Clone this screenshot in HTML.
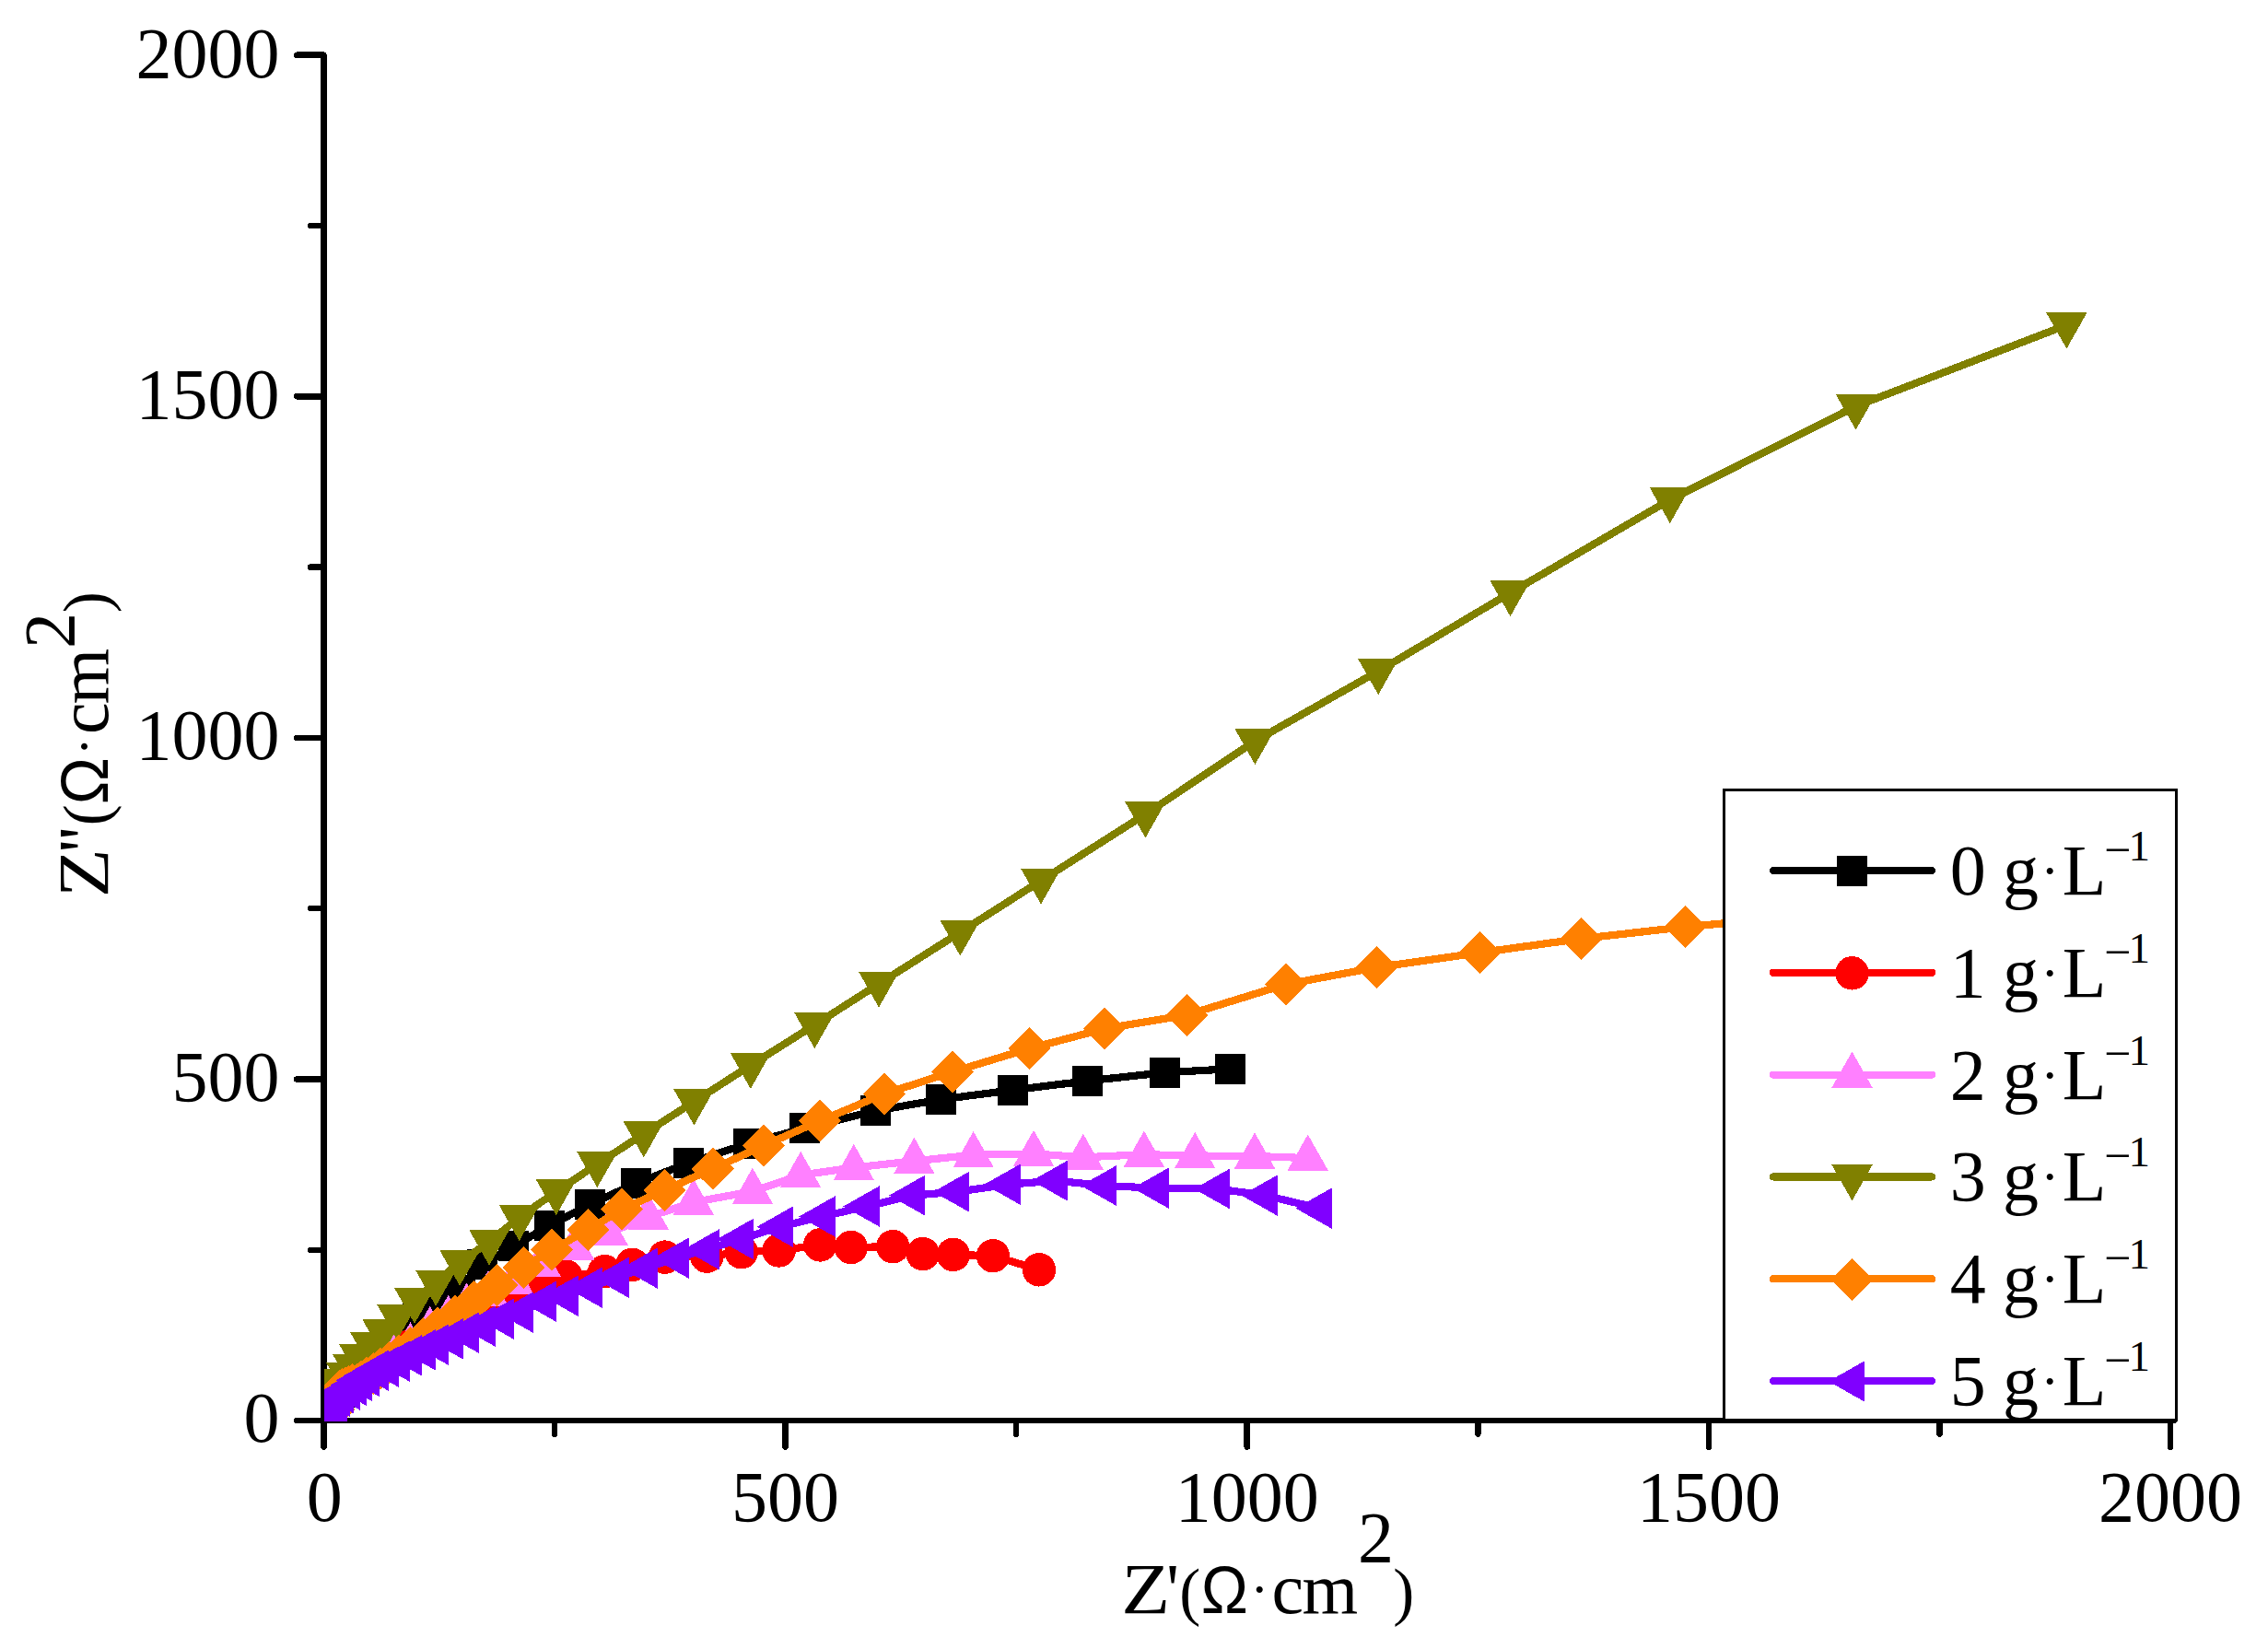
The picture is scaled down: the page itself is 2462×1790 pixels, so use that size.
<!DOCTYPE html>
<html lang="en"><head><meta charset="utf-8"><title>Nyquist plot</title>
<style>html,body{margin:0;padding:0;background:#fff}svg{display:block}text{font-family:"Liberation Serif","Times New Roman",serif;fill:#000}</style>
</head><body>
<svg width="2462" height="1790" viewBox="0 0 2462 1790">
<rect width="2462" height="1790" fill="#fff"/>
<defs><clipPath id="plot"><rect x="352" y="0" width="2110" height="1543"/></clipPath></defs>
<g stroke="#000" stroke-width="6.5" stroke-linecap="round" fill="none" shape-rendering="crispEdges">
<path d="M351.40 59.70V1570.65"/>
<path d="M322.15 1542.10H2359.55"/>
<path d="M337.05 1356.80H351.40"/>
<path d="M601.98 1542.10V1556.65"/>
<path d="M322.15 1171.50H351.40"/>
<path d="M852.56 1542.10V1570.65"/>
<path d="M337.05 986.20H351.40"/>
<path d="M1103.15 1542.10V1556.65"/>
<path d="M322.15 800.90H351.40"/>
<path d="M1353.73 1542.10V1570.65"/>
<path d="M337.05 615.60H351.40"/>
<path d="M1604.31 1542.10V1556.65"/>
<path d="M322.15 430.30H351.40"/>
<path d="M1854.89 1542.10V1570.65"/>
<path d="M337.05 245.00H351.40"/>
<path d="M2105.48 1542.10V1556.65"/>
<path d="M322.15 59.70H351.40"/>
<path d="M2356.06 1542.10V1570.65"/>
</g>
<g font-size="78">
<text x="303.5" y="1564.8" text-anchor="end">0</text>
<text x="303.5" y="1194.5" text-anchor="end">500</text>
<text x="303.5" y="824.3" text-anchor="end">1000</text>
<text x="303.5" y="454.0" text-anchor="end">1500</text>
<text x="303.5" y="83.8" text-anchor="end">2000</text>
<text x="352.2" y="1650.9" text-anchor="middle">0</text>
<text x="852.6" y="1650.9" text-anchor="middle">500</text>
<text x="1353.7" y="1650.9" text-anchor="middle">1000</text>
<text x="1854.9" y="1650.9" text-anchor="middle">1500</text>
<text x="2356.1" y="1650.9" text-anchor="middle">2000</text>
</g>
<g clip-path="url(#plot)" shape-rendering="crispEdges">
<path d="M1335.6 1160.3L1264.1 1164.3L1180.5 1173.3L1099.3 1183.3L1021.5 1193.4L950.1 1205.8L873.8 1224.6L812.0 1241.5L747.4 1262.4L690.4 1284.6L640.4 1307.3L596.4 1330.6L557.3 1352.8L523.6 1372.8L499.4 1400.0L474.7 1416.0L453.7 1430.5L436.6 1443.0L421.7 1455.0L409.6 1466.0L399.6 1476.0L391.6 1485.0L384.6 1492.0L379.3 1499.0L375.0 1505.0L371.5 1511.0L367.0 1515.0L363.0 1519.0" fill="none" stroke="#000000" stroke-width="8.2" stroke-linejoin="round" stroke-linecap="round"/>
<path d="M1319.1 1143.8h33.0v33.0h-33.0zM1247.6 1147.8h33.0v33.0h-33.0zM1164.0 1156.8h33.0v33.0h-33.0zM1082.8 1166.8h33.0v33.0h-33.0zM1005.0 1176.9h33.0v33.0h-33.0zM933.6 1189.3h33.0v33.0h-33.0zM857.3 1208.1h33.0v33.0h-33.0zM795.5 1225.0h33.0v33.0h-33.0zM730.9 1245.9h33.0v33.0h-33.0zM673.9 1268.1h33.0v33.0h-33.0zM623.9 1290.8h33.0v33.0h-33.0zM579.9 1314.1h33.0v33.0h-33.0zM540.8 1336.3h33.0v33.0h-33.0zM507.1 1356.3h33.0v33.0h-33.0zM482.9 1383.5h33.0v33.0h-33.0zM458.2 1399.5h33.0v33.0h-33.0zM437.2 1414.0h33.0v33.0h-33.0zM420.1 1426.5h33.0v33.0h-33.0zM405.2 1438.5h33.0v33.0h-33.0zM393.1 1449.5h33.0v33.0h-33.0zM383.1 1459.5h33.0v33.0h-33.0zM375.1 1468.5h33.0v33.0h-33.0zM368.1 1475.5h33.0v33.0h-33.0zM362.8 1482.5h33.0v33.0h-33.0zM358.5 1488.5h33.0v33.0h-33.0zM355.0 1494.5h33.0v33.0h-33.0zM350.5 1498.5h33.0v33.0h-33.0zM346.5 1502.5h33.0v33.0h-33.0z" fill="#000000"/>
<path d="M1127.9 1378.3L1077.9 1363.2L1034.8 1361.9L1001.7 1361.1L969.2 1353.2L923.7 1354.0L890.2 1351.4L845.6 1357.4L804.7 1359.2L767.4 1363.7L721.9 1364.6L686.4 1372.8L656.4 1380.1L614.6 1385.5L589.1 1396.5L565.5 1407.4L537.0 1420.5L515.0 1429.2L495.0 1437.1L477.0 1448.2L461.0 1454.6L447.0 1460.3L434.0 1466.3L423.0 1471.8L413.0 1478.9L404.0 1483.2L396.0 1488.0L389.0 1492.5L383.0 1497.4L377.5 1504.2L372.5 1507.5L368.0 1511.0L364.0 1512.1L362.0 1512.1" fill="none" stroke="#ff0000" stroke-width="8.2" stroke-linejoin="round" stroke-linecap="round"/>
<path d="M1109.7 1378.3a18.25 18.25 0 1 0 36.5 0a18.25 18.25 0 1 0 -36.5 0zM1059.7 1363.2a18.25 18.25 0 1 0 36.5 0a18.25 18.25 0 1 0 -36.5 0zM1016.5 1361.9a18.25 18.25 0 1 0 36.5 0a18.25 18.25 0 1 0 -36.5 0zM983.5 1361.1a18.25 18.25 0 1 0 36.5 0a18.25 18.25 0 1 0 -36.5 0zM951.0 1353.2a18.25 18.25 0 1 0 36.5 0a18.25 18.25 0 1 0 -36.5 0zM905.5 1354.0a18.25 18.25 0 1 0 36.5 0a18.25 18.25 0 1 0 -36.5 0zM872.0 1351.4a18.25 18.25 0 1 0 36.5 0a18.25 18.25 0 1 0 -36.5 0zM827.4 1357.4a18.25 18.25 0 1 0 36.5 0a18.25 18.25 0 1 0 -36.5 0zM786.5 1359.2a18.25 18.25 0 1 0 36.5 0a18.25 18.25 0 1 0 -36.5 0zM749.1 1363.7a18.25 18.25 0 1 0 36.5 0a18.25 18.25 0 1 0 -36.5 0zM703.6 1364.6a18.25 18.25 0 1 0 36.5 0a18.25 18.25 0 1 0 -36.5 0zM668.1 1372.8a18.25 18.25 0 1 0 36.5 0a18.25 18.25 0 1 0 -36.5 0zM638.1 1380.1a18.25 18.25 0 1 0 36.5 0a18.25 18.25 0 1 0 -36.5 0zM596.4 1385.5a18.25 18.25 0 1 0 36.5 0a18.25 18.25 0 1 0 -36.5 0zM570.9 1396.5a18.25 18.25 0 1 0 36.5 0a18.25 18.25 0 1 0 -36.5 0zM547.2 1407.4a18.25 18.25 0 1 0 36.5 0a18.25 18.25 0 1 0 -36.5 0zM518.8 1420.5a18.25 18.25 0 1 0 36.5 0a18.25 18.25 0 1 0 -36.5 0zM496.8 1429.2a18.25 18.25 0 1 0 36.5 0a18.25 18.25 0 1 0 -36.5 0zM476.8 1437.1a18.25 18.25 0 1 0 36.5 0a18.25 18.25 0 1 0 -36.5 0zM458.8 1448.2a18.25 18.25 0 1 0 36.5 0a18.25 18.25 0 1 0 -36.5 0zM442.8 1454.6a18.25 18.25 0 1 0 36.5 0a18.25 18.25 0 1 0 -36.5 0zM428.8 1460.3a18.25 18.25 0 1 0 36.5 0a18.25 18.25 0 1 0 -36.5 0zM415.8 1466.3a18.25 18.25 0 1 0 36.5 0a18.25 18.25 0 1 0 -36.5 0zM404.8 1471.8a18.25 18.25 0 1 0 36.5 0a18.25 18.25 0 1 0 -36.5 0zM394.8 1478.9a18.25 18.25 0 1 0 36.5 0a18.25 18.25 0 1 0 -36.5 0zM385.8 1483.2a18.25 18.25 0 1 0 36.5 0a18.25 18.25 0 1 0 -36.5 0zM377.8 1488.0a18.25 18.25 0 1 0 36.5 0a18.25 18.25 0 1 0 -36.5 0zM370.8 1492.5a18.25 18.25 0 1 0 36.5 0a18.25 18.25 0 1 0 -36.5 0zM364.8 1497.4a18.25 18.25 0 1 0 36.5 0a18.25 18.25 0 1 0 -36.5 0zM359.2 1504.2a18.25 18.25 0 1 0 36.5 0a18.25 18.25 0 1 0 -36.5 0zM354.2 1507.5a18.25 18.25 0 1 0 36.5 0a18.25 18.25 0 1 0 -36.5 0zM349.8 1511.0a18.25 18.25 0 1 0 36.5 0a18.25 18.25 0 1 0 -36.5 0zM345.8 1512.1a18.25 18.25 0 1 0 36.5 0a18.25 18.25 0 1 0 -36.5 0zM343.8 1512.1a18.25 18.25 0 1 0 36.5 0a18.25 18.25 0 1 0 -36.5 0z" fill="#ff0000"/>
<path d="M1419.7 1257.1L1362.0 1255.0L1297.2 1254.5L1241.9 1253.2L1175.8 1256.3L1122.1 1252.4L1056.7 1253.7L992.4 1260.3L926.8 1267.5L869.2 1275.5L816.9 1293.3L752.8 1305.0L703.7 1321.0L659.9 1338.6L623.5 1354.6L587.1 1372.8L557.1 1391.0L530.0 1404.5L506.7 1418.0L486.7 1431.4L466.7 1443.4L445.4 1460.8L427.4 1467.6L412.0 1474.3L400.0 1480.5L390.0 1486.7L382.0 1493.1L375.0 1504.9L369.0 1509.2L364.0 1511.1L362.0 1511.1" fill="none" stroke="#ff80ff" stroke-width="8.2" stroke-linejoin="round" stroke-linecap="round"/>
<path d="M1419.7 1231.5L1441.8 1270.6L1397.6 1270.6zM1362.0 1229.4L1384.1 1268.5L1339.9 1268.5zM1297.2 1228.9L1319.3 1268.0L1275.1 1268.0zM1241.9 1227.6L1264.0 1266.7L1219.8 1266.7zM1175.8 1230.7L1197.9 1269.8L1153.7 1269.8zM1122.1 1226.8L1144.2 1265.9L1100.0 1265.9zM1056.7 1228.1L1078.8 1267.2L1034.6 1267.2zM992.4 1234.7L1014.5 1273.8L970.3 1273.8zM926.8 1241.9L948.9 1281.0L904.7 1281.0zM869.2 1249.9L891.3 1289.0L847.1 1289.0zM816.9 1267.7L839.0 1306.8L794.8 1306.8zM752.8 1279.4L774.9 1318.5L730.7 1318.5zM703.7 1295.4L725.8 1334.5L681.6 1334.5zM659.9 1313.0L682.0 1352.1L637.8 1352.1zM623.5 1329.0L645.6 1368.1L601.4 1368.1zM587.1 1347.2L609.2 1386.3L565.0 1386.3zM557.1 1365.4L579.2 1404.5L535.0 1404.5zM530.0 1378.9L552.1 1418.0L507.9 1418.0zM506.7 1392.4L528.8 1431.5L484.6 1431.5zM486.7 1405.8L508.8 1444.9L464.6 1444.9zM466.7 1417.8L488.8 1456.9L444.6 1456.9zM445.4 1435.2L467.5 1474.3L423.3 1474.3zM427.4 1442.0L449.5 1481.1L405.3 1481.1zM412.0 1448.7L434.1 1487.8L389.9 1487.8zM400.0 1454.9L422.1 1494.0L377.9 1494.0zM390.0 1461.1L412.1 1500.2L367.9 1500.2zM382.0 1467.5L404.1 1506.6L359.9 1506.6zM375.0 1479.3L397.1 1518.4L352.9 1518.4zM369.0 1483.6L391.1 1522.7L346.9 1522.7zM364.0 1485.5L386.1 1524.6L341.9 1524.6zM362.0 1485.5L384.1 1524.6L339.9 1524.6z" fill="#ff80ff"/>
<path d="M2243.4 352.9L2014.6 441.0L1812.8 542.5L1639.5 643.5L1496.2 728.6L1362.4 804.4L1243.4 883.9L1130.0 956.0L1042.3 1012.0L954.0 1068.0L884.3 1112.6L814.8 1156.4L753.4 1195.9L698.8 1230.8L648.3 1263.6L603.8 1293.6L563.7 1321.4L531.1 1348.1L499.1 1370.1L473.1 1392.2L450.0 1411.2L431.1 1429.2L415.1 1445.1L402.0 1459.3L390.0 1472.2L382.9 1483.1L376.0 1492.2L370.0 1499.5L365.5 1505.5L363.0 1511.0L362.0 1517.0L362.0 1525.0" fill="none" stroke="#808000" stroke-width="8.2" stroke-linejoin="round" stroke-linecap="round"/>
<path d="M2243.4 378.5L2265.5 339.4L2221.3 339.4zM2014.6 466.6L2036.7 427.5L1992.5 427.5zM1812.8 568.1L1834.9 529.0L1790.7 529.0zM1639.5 669.1L1661.6 630.0L1617.4 630.0zM1496.2 754.2L1518.3 715.1L1474.1 715.1zM1362.4 830.0L1384.5 790.9L1340.3 790.9zM1243.4 909.5L1265.5 870.4L1221.3 870.4zM1130.0 981.6L1152.1 942.5L1107.9 942.5zM1042.3 1037.6L1064.4 998.5L1020.2 998.5zM954.0 1093.6L976.1 1054.5L931.9 1054.5zM884.3 1138.2L906.4 1099.1L862.2 1099.1zM814.8 1182.0L836.9 1142.9L792.7 1142.9zM753.4 1221.5L775.5 1182.4L731.3 1182.4zM698.8 1256.4L720.9 1217.3L676.7 1217.3zM648.3 1289.2L670.4 1250.1L626.2 1250.1zM603.8 1319.2L625.9 1280.1L581.7 1280.1zM563.7 1347.0L585.8 1307.9L541.6 1307.9zM531.1 1373.7L553.2 1334.6L509.0 1334.6zM499.1 1395.7L521.2 1356.6L477.0 1356.6zM473.1 1417.8L495.2 1378.7L451.0 1378.7zM450.0 1436.8L472.1 1397.7L427.9 1397.7zM431.1 1454.8L453.2 1415.7L409.0 1415.7zM415.1 1470.7L437.2 1431.6L393.0 1431.6zM402.0 1484.9L424.1 1445.8L379.9 1445.8zM390.0 1497.8L412.1 1458.7L367.9 1458.7zM382.9 1508.7L405.0 1469.6L360.8 1469.6zM376.0 1517.8L398.1 1478.7L353.9 1478.7zM370.0 1525.1L392.1 1486.0L347.9 1486.0zM365.5 1531.1L387.6 1492.0L343.4 1492.0zM363.0 1536.6L385.1 1497.5L340.9 1497.5zM362.0 1542.6L384.1 1503.5L339.9 1503.5zM362.0 1550.6L384.1 1511.5L339.9 1511.5z" fill="#808000"/>
<path d="M1960.0 994.0L1829.4 1006.2L1716.0 1019.0L1606.7 1034.1L1494.3 1050.1L1395.6 1068.6L1288.5 1101.7L1199.3 1116.7L1117.4 1138.2L1034.2 1163.5L960.2 1187.3L890.4 1216.6L828.7 1243.7L773.8 1268.8L721.5 1291.9L675.2 1312.8L638.2 1335.0L599.1 1356.8L568.2 1375.9L539.1 1395.0L514.7 1413.3L493.5 1428.5L475.0 1441.7L459.0 1453.0L445.0 1463.0L433.0 1471.5L422.3 1479.0L413.0 1485.5L405.0 1491.0L398.0 1495.5L392.0 1499.5L387.0 1503.0L382.0 1503.0L378.0 1505.0L374.7 1506.5L371.7 1508.0L368.5 1510.0L366.5 1512.5L364.0 1518.0L362.5 1524.0L362.0 1530.0" fill="none" stroke="#ff8000" stroke-width="8.2" stroke-linejoin="round" stroke-linecap="round"/>
<path d="M1960.0 971.0L1983.0 994.0L1960.0 1017.0L1937.0 994.0zM1829.4 983.2L1852.4 1006.2L1829.4 1029.2L1806.4 1006.2zM1716.0 996.0L1739.0 1019.0L1716.0 1042.0L1693.0 1019.0zM1606.7 1011.1L1629.7 1034.1L1606.7 1057.1L1583.7 1034.1zM1494.3 1027.1L1517.3 1050.1L1494.3 1073.1L1471.3 1050.1zM1395.6 1045.6L1418.6 1068.6L1395.6 1091.6L1372.6 1068.6zM1288.5 1078.7L1311.5 1101.7L1288.5 1124.7L1265.5 1101.7zM1199.3 1093.7L1222.3 1116.7L1199.3 1139.7L1176.3 1116.7zM1117.4 1115.2L1140.4 1138.2L1117.4 1161.2L1094.4 1138.2zM1034.2 1140.5L1057.2 1163.5L1034.2 1186.5L1011.2 1163.5zM960.2 1164.3L983.2 1187.3L960.2 1210.3L937.2 1187.3zM890.4 1193.6L913.4 1216.6L890.4 1239.6L867.4 1216.6zM828.7 1220.7L851.7 1243.7L828.7 1266.7L805.7 1243.7zM773.8 1245.8L796.8 1268.8L773.8 1291.8L750.8 1268.8zM721.5 1268.9L744.5 1291.9L721.5 1314.9L698.5 1291.9zM675.2 1289.8L698.2 1312.8L675.2 1335.8L652.2 1312.8zM638.2 1312.0L661.2 1335.0L638.2 1358.0L615.2 1335.0zM599.1 1333.8L622.1 1356.8L599.1 1379.8L576.1 1356.8zM568.2 1352.9L591.2 1375.9L568.2 1398.9L545.2 1375.9zM539.1 1372.0L562.1 1395.0L539.1 1418.0L516.1 1395.0zM514.7 1390.3L537.7 1413.3L514.7 1436.3L491.7 1413.3zM493.5 1405.5L516.5 1428.5L493.5 1451.5L470.5 1428.5zM475.0 1418.7L498.0 1441.7L475.0 1464.7L452.0 1441.7zM459.0 1430.0L482.0 1453.0L459.0 1476.0L436.0 1453.0zM445.0 1440.0L468.0 1463.0L445.0 1486.0L422.0 1463.0zM433.0 1448.5L456.0 1471.5L433.0 1494.5L410.0 1471.5zM422.3 1456.0L445.3 1479.0L422.3 1502.0L399.3 1479.0zM413.0 1462.5L436.0 1485.5L413.0 1508.5L390.0 1485.5zM405.0 1468.0L428.0 1491.0L405.0 1514.0L382.0 1491.0zM398.0 1472.5L421.0 1495.5L398.0 1518.5L375.0 1495.5zM392.0 1476.5L415.0 1499.5L392.0 1522.5L369.0 1499.5zM387.0 1480.0L410.0 1503.0L387.0 1526.0L364.0 1503.0zM382.0 1480.0L405.0 1503.0L382.0 1526.0L359.0 1503.0zM378.0 1482.0L401.0 1505.0L378.0 1528.0L355.0 1505.0zM374.7 1483.5L397.7 1506.5L374.7 1529.5L351.7 1506.5zM371.7 1485.0L394.7 1508.0L371.7 1531.0L348.7 1508.0zM368.5 1487.0L391.5 1510.0L368.5 1533.0L345.5 1510.0zM366.5 1489.5L389.5 1512.5L366.5 1535.5L343.5 1512.5zM364.0 1495.0L387.0 1518.0L364.0 1541.0L341.0 1518.0zM362.5 1501.0L385.5 1524.0L362.5 1547.0L339.5 1524.0zM362.0 1507.0L385.0 1530.0L362.0 1553.0L339.0 1530.0z" fill="#ff8000"/>
<path d="M1432.1 1311.6L1373.1 1297.6L1321.8 1290.5L1255.1 1289.7L1198.8 1287.0L1145.6 1281.7L1094.0 1285.7L1038.7 1293.7L990.8 1297.6L941.1 1309.5L893.0 1320.5L847.1 1331.7L804.1 1345.0L767.4 1356.3L734.1 1365.7L700.1 1376.6L669.2 1386.8L640.1 1397.7L614.0 1406.7L590.3 1412.7L565.0 1424.6L544.1 1431.6L524.1 1439.7L506.1 1446.7L489.1 1453.4L473.1 1459.7L459.1 1465.4L444.3 1471.4L431.1 1477.7L419.1 1483.7L408.2 1487.7L398.0 1493.7L390.0 1498.7L384.0 1503.7L377.1 1508.5L370.9 1512.5L366.8 1516.1L363.3 1521.0L362.3 1526.0L361.5 1531.0L361.0 1536.0" fill="none" stroke="#8000ff" stroke-width="8.2" stroke-linejoin="round" stroke-linecap="round"/>
<path d="M1406.5 1311.6L1445.6 1289.5L1445.6 1333.7zM1347.5 1297.6L1386.6 1275.5L1386.6 1319.7zM1296.2 1290.5L1335.3 1268.4L1335.3 1312.6zM1229.5 1289.7L1268.6 1267.6L1268.6 1311.8zM1173.2 1287.0L1212.3 1264.9L1212.3 1309.1zM1120.0 1281.7L1159.1 1259.6L1159.1 1303.8zM1068.4 1285.7L1107.5 1263.6L1107.5 1307.8zM1013.1 1293.7L1052.2 1271.6L1052.2 1315.8zM965.2 1297.6L1004.3 1275.5L1004.3 1319.7zM915.5 1309.5L954.6 1287.4L954.6 1331.6zM867.4 1320.5L906.5 1298.4L906.5 1342.6zM821.5 1331.7L860.6 1309.6L860.6 1353.8zM778.5 1345.0L817.6 1322.9L817.6 1367.1zM741.8 1356.3L780.9 1334.2L780.9 1378.4zM708.5 1365.7L747.6 1343.6L747.6 1387.8zM674.5 1376.6L713.6 1354.5L713.6 1398.7zM643.6 1386.8L682.7 1364.7L682.7 1408.9zM614.5 1397.7L653.6 1375.6L653.6 1419.8zM588.4 1406.7L627.5 1384.6L627.5 1428.8zM564.7 1412.7L603.8 1390.6L603.8 1434.8zM539.4 1424.6L578.5 1402.5L578.5 1446.7zM518.5 1431.6L557.6 1409.5L557.6 1453.7zM498.5 1439.7L537.6 1417.6L537.6 1461.8zM480.5 1446.7L519.6 1424.6L519.6 1468.8zM463.5 1453.4L502.6 1431.3L502.6 1475.5zM447.5 1459.7L486.6 1437.6L486.6 1481.8zM433.5 1465.4L472.6 1443.3L472.6 1487.5zM418.7 1471.4L457.8 1449.3L457.8 1493.5zM405.5 1477.7L444.6 1455.6L444.6 1499.8zM393.5 1483.7L432.6 1461.6L432.6 1505.8zM382.6 1487.7L421.7 1465.6L421.7 1509.8zM372.4 1493.7L411.5 1471.6L411.5 1515.8zM364.4 1498.7L403.5 1476.6L403.5 1520.8zM358.4 1503.7L397.5 1481.6L397.5 1525.8zM351.5 1508.5L390.6 1486.4L390.6 1530.6zM345.3 1512.5L384.4 1490.4L384.4 1534.6zM341.2 1516.1L380.3 1494.0L380.3 1538.2zM337.7 1521.0L376.8 1498.9L376.8 1543.1zM336.7 1526.0L375.8 1503.9L375.8 1548.1zM335.9 1531.0L375.0 1508.9L375.0 1553.1zM335.4 1536.0L374.5 1513.9L374.5 1558.1z" fill="#8000ff"/>
</g>
<rect x="1871.5" y="857.5" width="491.0" height="684.0" fill="#fff" stroke="#000" stroke-width="3" shape-rendering="crispEdges"/>
<g shape-rendering="crispEdges"><path d="M1925.0 945.0H2097.0" stroke="#000000" stroke-width="8.2" stroke-linecap="round"/>
<path d="M1994.0 929.0h33.0v33.0h-33.0z" fill="#000000"/></g>
<text y="971.0" font-size="78"><tspan x="2116.8">0 </tspan><tspan x="2174.1">g</tspan><tspan x="2215.3" y="964.9" font-size="60">·</tspan><tspan x="2238.8" y="971.0">L</tspan><tspan x="2284" y="939.7" font-size="52">−</tspan><tspan x="2310.6" y="934.0" font-size="47">1</tspan></text>
<g shape-rendering="crispEdges"><path d="M1925.0 1055.8H2097.0" stroke="#ff0000" stroke-width="8.2" stroke-linecap="round"/>
<path d="M1992.2 1056.3a18.25 18.25 0 1 0 36.5 0a18.25 18.25 0 1 0 -36.5 0z" fill="#ff0000"/></g>
<text y="1081.8" font-size="78"><tspan x="2116.8">1 </tspan><tspan x="2174.1">g</tspan><tspan x="2215.3" y="1075.7" font-size="60">·</tspan><tspan x="2238.8" y="1081.8">L</tspan><tspan x="2284" y="1050.5" font-size="52">−</tspan><tspan x="2310.6" y="1044.8" font-size="47">1</tspan></text>
<g shape-rendering="crispEdges"><path d="M1925.0 1166.6H2097.0" stroke="#ff80ff" stroke-width="8.2" stroke-linecap="round"/>
<path d="M2010.5 1141.5L2032.6 1180.6L1988.4 1180.6z" fill="#ff80ff"/></g>
<text y="1192.6" font-size="78"><tspan x="2116.8">2 </tspan><tspan x="2174.1">g</tspan><tspan x="2215.3" y="1186.5" font-size="60">·</tspan><tspan x="2238.8" y="1192.6">L</tspan><tspan x="2284" y="1161.3" font-size="52">−</tspan><tspan x="2310.6" y="1155.6" font-size="47">1</tspan></text>
<g shape-rendering="crispEdges"><path d="M1925.0 1277.4H2097.0" stroke="#808000" stroke-width="8.2" stroke-linecap="round"/>
<path d="M2010.5 1303.5L2032.6 1264.4L1988.4 1264.4z" fill="#808000"/></g>
<text y="1303.4" font-size="78"><tspan x="2116.8">3 </tspan><tspan x="2174.1">g</tspan><tspan x="2215.3" y="1297.3" font-size="60">·</tspan><tspan x="2238.8" y="1303.4">L</tspan><tspan x="2284" y="1272.1" font-size="52">−</tspan><tspan x="2310.6" y="1266.4" font-size="47">1</tspan></text>
<g shape-rendering="crispEdges"><path d="M1925.0 1388.2H2097.0" stroke="#ff8000" stroke-width="8.2" stroke-linecap="round"/>
<path d="M2010.5 1365.7L2033.5 1388.7L2010.5 1411.7L1987.5 1388.7z" fill="#ff8000"/></g>
<text y="1414.2" font-size="78"><tspan x="2116.8">4 </tspan><tspan x="2174.1">g</tspan><tspan x="2215.3" y="1408.1" font-size="60">·</tspan><tspan x="2238.8" y="1414.2">L</tspan><tspan x="2284" y="1382.9" font-size="52">−</tspan><tspan x="2310.6" y="1377.2" font-size="47">1</tspan></text>
<g shape-rendering="crispEdges"><path d="M1925.0 1499.0H2097.0" stroke="#8000ff" stroke-width="8.2" stroke-linecap="round"/>
<path d="M1984.9 1499.5L2024.0 1477.4L2024.0 1521.6z" fill="#8000ff"/></g>
<text y="1525.0" font-size="78"><tspan x="2116.8">5 </tspan><tspan x="2174.1">g</tspan><tspan x="2215.3" y="1518.9" font-size="60">·</tspan><tspan x="2238.8" y="1525.0">L</tspan><tspan x="2284" y="1493.7" font-size="52">−</tspan><tspan x="2310.6" y="1488.0" font-size="47">1</tspan></text>
<g font-size="78">
<text transform="translate(1217.2 1750.8) scale(1.11 1)">Z</text>
<text y="1750.8"><tspan x="1266">'</tspan><tspan x="1280.3" font-size="69">(</tspan></text>
<text transform="translate(1303.7 1750.8) scale(0.947 1)" style="font-family:&quot;Liberation Sans&quot;,Arial,sans-serif" font-size="72.3">Ω</text>
<text y="1750.8"><tspan x="1357.3" y="1744.7" font-size="60">·</tspan><tspan x="1380.5" y="1750.8">c</tspan><tspan x="1413.6">m</tspan><tspan x="1474" y="1695.0">2</tspan><tspan x="1512.2" y="1751.1" font-size="69">)</tspan></text>
</g>
<g font-size="78" transform="translate(117 970) rotate(-90)">
<text transform="translate(-4.2 0) scale(1.11 1)">Z</text>
<text y="0"><tspan x="44.7">'</tspan><tspan x="58.4">'</tspan><tspan x="73.8" font-size="69">(</tspan></text>
<text transform="translate(96.7 0) scale(0.947 1)" style="font-family:&quot;Liberation Sans&quot;,Arial,sans-serif" font-size="72.3">Ω</text>
<text y="0"><tspan x="149.7" y="-6.1" font-size="60">·</tspan><tspan x="173.1" y="0">c</tspan><tspan x="205.45">m</tspan><tspan x="266.1" y="-37">2</tspan><tspan x="304.65" y="0.3" font-size="69">)</tspan></text>
</g>
</svg>
</body></html>
